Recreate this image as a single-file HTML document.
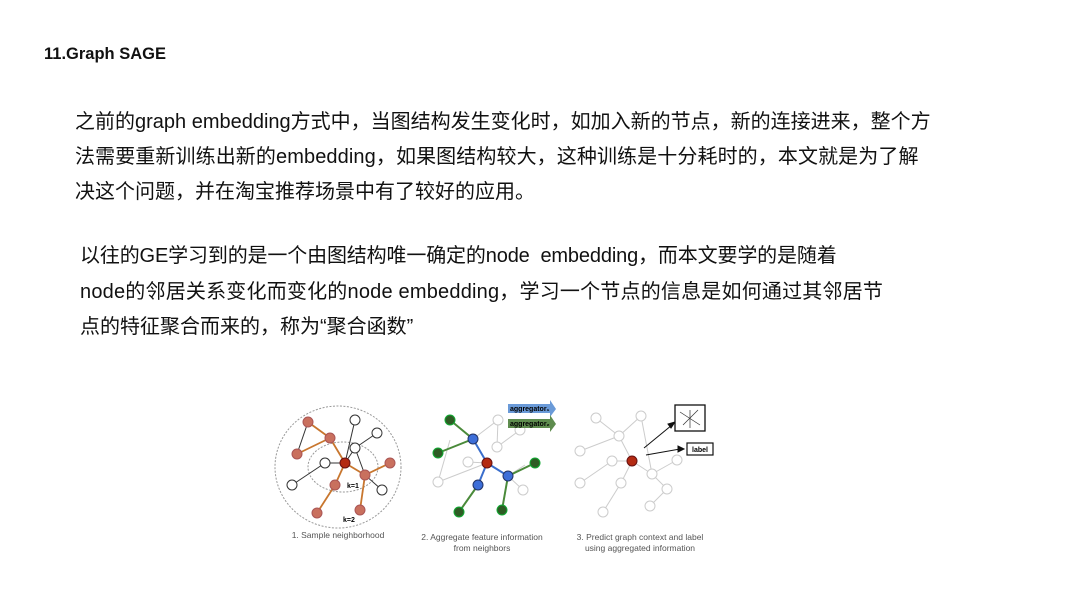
<!DOCTYPE html>
<html><head><meta charset="utf-8"><style>
body{margin:0;width:1080px;height:608px;background:#fff;position:relative;overflow:hidden;font-family:"Liberation Sans","Noto Sans CJK SC",sans-serif;color:#111}
.t{position:absolute;white-space:nowrap;font-size:20px;line-height:24px}
h1{position:absolute;left:44px;top:45px;margin:0;font-size:16.5px;font-weight:bold}
</style></head><body>
<h1>11.Graph SAGE</h1>
<div class="t" style="left:75px;top:110px">之前的graph embedding方式中，当图结构发生变化时，如加入新的节点，新的连接进来，整个方</div>
<div class="t" style="left:75px;top:145px;letter-spacing:0.1px">法需要重新训练出新的embedding，如果图结构较大，这种训练是十分耗时的，本文就是为了解</div>
<div class="t" style="left:75px;top:180px">决这个问题，并在淘宝推荐场景中有了较好的应用。</div>
<div class="t" style="left:80px;top:244px;letter-spacing:-0.15px">以往的GE学习到的是一个由图结构唯一确定的node&nbsp; embedding，而本文要学的是随着</div>
<div class="t" style="left:80px;top:280px;letter-spacing:0.2px">node的邻居关系变化而变化的node embedding，学习一个节点的信息是如何通过其邻居节</div>
<div class="t" style="left:80px;top:315px">点的特征聚合而来的，称为“聚合函数”</div>
<svg width="1080" height="608" style="position:absolute;left:0;top:0" font-family="Liberation Sans,sans-serif">
<g stroke="#999" fill="none" stroke-dasharray="2,1.5"><ellipse cx="338" cy="467" rx="63" ry="61"/><ellipse cx="343" cy="467" rx="35" ry="25"/></g>
<g stroke="#333" stroke-width="1">
<line x1="355" y1="420" x2="345" y2="463"/><line x1="377" y1="433" x2="355" y2="448"/><line x1="355" y1="448" x2="345" y2="463"/><line x1="325" y1="463" x2="345" y2="463"/><line x1="325" y1="463" x2="292" y2="485"/><line x1="365" y1="475" x2="382" y2="490"/><line x1="308" y1="422" x2="297" y2="454"/><line x1="355" y1="448" x2="365" y2="475"/>
</g>
<g stroke="#c8762e" stroke-width="1.8">
<line x1="308" y1="422" x2="330" y2="438"/><line x1="330" y1="438" x2="297" y2="454"/><line x1="330" y1="438" x2="345" y2="463"/><line x1="345" y1="463" x2="365" y2="475"/><line x1="365" y1="475" x2="390" y2="463"/><line x1="345" y1="463" x2="335" y2="485"/><line x1="335" y1="485" x2="317" y2="513"/><line x1="365" y1="475" x2="360" y2="510"/>
</g>
<g stroke="#333" fill="#fff"><circle cx="355" cy="420" r="5"/><circle cx="377" cy="433" r="5"/><circle cx="355" cy="448" r="5"/><circle cx="325" cy="463" r="5"/><circle cx="292" cy="485" r="5"/><circle cx="382" cy="490" r="5"/></g>
<g fill="#c9705e" stroke="#a55"><circle cx="308" cy="422" r="5"/><circle cx="330" cy="438" r="5"/><circle cx="297" cy="454" r="5"/><circle cx="390" cy="463" r="5"/><circle cx="365" cy="475" r="5"/><circle cx="335" cy="485" r="5"/><circle cx="317" cy="513" r="5"/><circle cx="360" cy="510" r="5"/></g>
<circle cx="345" cy="463" r="5" fill="#b32a12" stroke="#611"/>
<text x="347" y="488" font-size="7" font-weight="bold">k=1</text><text x="343" y="522" font-size="7" font-weight="bold">k=2</text>
<text x="338" y="538" font-size="8.5" fill="#555" text-anchor="middle">1. Sample neighborhood</text>
<g stroke="#ccc" fill="none"><line x1="473" y1="439" x2="498" y2="420"/><line x1="498" y1="420" x2="497" y2="447"/><line x1="497" y1="447" x2="520" y2="430"/><line x1="487" y1="463" x2="468" y2="462"/><line x1="487" y1="463" x2="438" y2="482"/><line x1="508" y1="476" x2="523" y2="490"/><line x1="508" y1="476" x2="525" y2="465"/><line x1="450" y1="440" x2="438" y2="482"/></g>
<g stroke="#ccc" fill="#fff"><circle cx="498" cy="420" r="5"/><circle cx="520" cy="430" r="5"/><circle cx="497" cy="447" r="5"/><circle cx="468" cy="462" r="5"/><circle cx="438" cy="482" r="5"/><circle cx="523" cy="490" r="5"/></g>
<g stroke="#4a8a3a" stroke-width="2"><line x1="450" y1="420" x2="473" y2="439"/><line x1="438" y1="453" x2="473" y2="439"/><line x1="535" y1="463" x2="508" y2="476"/><line x1="459" y1="512" x2="478" y2="485"/><line x1="502" y1="510" x2="508" y2="476"/></g>
<g stroke="#3a6ecc" stroke-width="2"><line x1="473" y1="439" x2="487" y2="463"/><line x1="487" y1="463" x2="508" y2="476"/><line x1="478" y1="485" x2="487" y2="463"/></g>
<g fill="#2e5c24" stroke="#1a3"><circle cx="450" cy="420" r="5"/><circle cx="438" cy="453" r="5"/><circle cx="535" cy="463" r="5"/><circle cx="459" cy="512" r="5"/><circle cx="502" cy="510" r="5"/></g>
<g fill="#3d6ed8" stroke="#236"><circle cx="473" cy="439" r="5"/><circle cx="508" cy="476" r="5"/><circle cx="478" cy="485" r="5"/></g>
<circle cx="487" cy="463" r="5" fill="#b32a12" stroke="#611"/>
<polygon points="508,404 550,404 550,400 556,409 550,417 550,413 508,413" fill="#6a9ad8"/>
<polygon points="508,419 550,419 550,415 556,424 550,432 550,428 508,428" fill="#5e8c4e"/>
<text x="510" y="411" font-size="7" font-weight="bold">aggregator₁</text><text x="510" y="426" font-size="7" font-weight="bold">aggregator₂</text>
<text x="482" y="540" font-size="8.5" fill="#555" text-anchor="middle">2. Aggregate feature information</text><text x="482" y="551" font-size="8.5" fill="#555" text-anchor="middle">from neighbors</text>
<g stroke="#ccc" fill="none"><line x1="596" y1="418" x2="619" y2="436"/><line x1="619" y1="436" x2="580" y2="451"/><line x1="619" y1="436" x2="641" y2="416"/><line x1="619" y1="436" x2="632" y2="461"/><line x1="632" y1="461" x2="612" y2="461"/><line x1="612" y1="461" x2="580" y2="483"/><line x1="632" y1="461" x2="652" y2="474"/><line x1="652" y1="474" x2="677" y2="460"/><line x1="652" y1="474" x2="667" y2="489"/><line x1="667" y1="489" x2="650" y2="506"/><line x1="632" y1="461" x2="621" y2="483"/><line x1="621" y1="483" x2="603" y2="512"/><line x1="641" y1="416" x2="652" y2="474"/></g>
<g stroke="#ccc" fill="#fff"><circle cx="596" cy="418" r="5"/><circle cx="619" cy="436" r="5"/><circle cx="580" cy="451" r="5"/><circle cx="641" cy="416" r="5"/><circle cx="612" cy="461" r="5"/><circle cx="580" cy="483" r="5"/><circle cx="652" cy="474" r="5"/><circle cx="677" cy="460" r="5"/><circle cx="667" cy="489" r="5"/><circle cx="650" cy="506" r="5"/><circle cx="621" cy="483" r="5"/><circle cx="603" cy="512" r="5"/></g>
<circle cx="632" cy="461" r="5" fill="#b32a12" stroke="#611"/>
<g stroke="#111" fill="#111"><line x1="644" y1="448" x2="672" y2="425"/><polygon points="675,422 668,424 671,428"/><line x1="646" y1="455" x2="680" y2="449"/><polygon points="684,449 678,446 678,452"/></g>
<rect x="675" y="405" width="30" height="26" fill="#fff" stroke="#111" stroke-width="1.3"/>
<g stroke="#333" stroke-width="0.7"><line x1="680" y1="412" x2="700" y2="425"/><line x1="683" y1="425" x2="698" y2="410"/><line x1="690" y1="410" x2="690" y2="428"/></g>
<rect x="687" y="443" width="26" height="12" fill="#fff" stroke="#111" stroke-width="1.2"/>
<text x="700" y="452" font-size="7" font-weight="bold" text-anchor="middle">label</text>
<text x="640" y="540" font-size="8.5" fill="#555" text-anchor="middle">3. Predict graph context and label</text><text x="640" y="551" font-size="8.5" fill="#555" text-anchor="middle">using aggregated information</text>
</svg>
</body></html>
